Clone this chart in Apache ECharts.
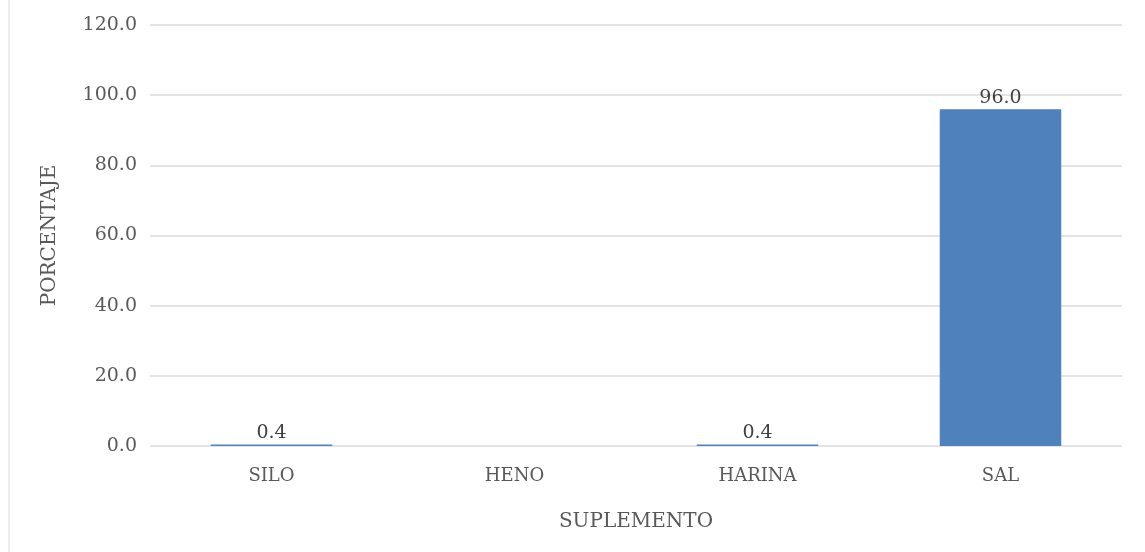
<!DOCTYPE html>
<html>
<head>
<meta charset="utf-8">
<script src="https://cdn.jsdelivr.net/npm/echarts@6/dist/echarts.min.js"></script>
<style>
  html, body { margin: 0; padding: 0; background: #ffffff; }
  #chart { width: 1145px; height: 552px; }
  #frame { position: absolute; left: 8px; top: 0; width: 2px; height: 552px; background: #ececec; }
</style>
</head>
<body>
<div id="frame"></div>
<div id="chart"></div>
<script>
// Supplement categories and share of farms using each (%)
const categories = ['SILO', 'HENO', 'HARINA', 'SAL'];
const values = [0.4, null, 0.4, 96.0];
const yTicks = { min: 0, max: 120, interval: 20 };

const textColor = '#595959';
const font = '"DejaVu Serif", "Liberation Serif", serif';

const chart = echarts.init(document.getElementById('chart'), null, { renderer: 'canvas' });
chart.setOption({
  animation: false,
  textStyle: { fontFamily: font },
  grid: { left: 150, right: 23, top: 25, bottom: 106, containLabel: false },
  xAxis: {
    type: 'category',
    data: categories,
    name: 'SUPLEMENTO',
    nameLocation: 'middle',
    nameGap: 66,
    nameTextStyle: { color: textColor, fontSize: 20, fontFamily: font },
    axisLine: { show: false },
    axisTick: { show: false },
    axisLabel: { color: textColor, fontSize: 18, fontFamily: font, margin: 21 }
  },
  yAxis: {
    type: 'value',
    min: yTicks.min,
    max: yTicks.max,
    interval: yTicks.interval,
    name: 'PORCENTAJE',
    nameLocation: 'middle',
    nameGap: 90,
    nameRotate: 90,
    nameTextStyle: { color: textColor, fontSize: 20, fontFamily: font },
    axisLine: { show: false },
    axisTick: { show: false },
    axisLabel: {
      color: textColor, fontSize: 19, fontFamily: font, margin: 13,
      formatter: v => v.toFixed(1)
    },
    splitLine: { lineStyle: { color: '#e4e4e4', width: 2 } }
  },
  series: [{
    type: 'bar',
    data: values,
    barWidth: '50%',
    itemStyle: { color: '#4f81bd' },
    label: {
      show: true,
      position: 'top',
      distance: 2,
      color: '#404040',
      fontSize: 19,
      fontFamily: font,
      formatter: p => (p.value == null ? '' : Number(p.value).toFixed(1))
    }
  }]
});
</script>
</body>
</html>
